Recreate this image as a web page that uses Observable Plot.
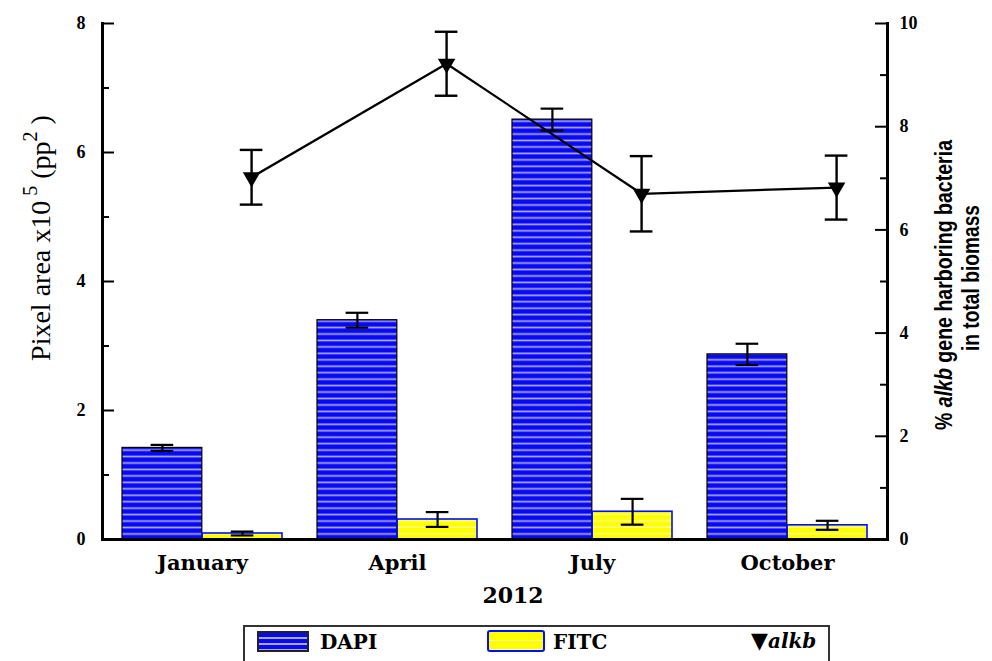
<!DOCTYPE html>
<html><head><meta charset="utf-8">
<script src="https://cdn.jsdelivr.net/npm/d3@7"></script>
<script src="https://cdn.jsdelivr.net/npm/@observablehq/plot@0.6"></script>
<style>
body{margin:0;background:#fff;}
#wrap{position:relative;width:992px;height:661px;overflow:hidden;background:#fff;}
#legend{position:absolute;left:243px;top:625px;width:587px;height:44px;border:2px solid #333;box-sizing:border-box;background:#fff;}
.sw{position:absolute;box-sizing:border-box;}
.lt{position:absolute;font-family:"DejaVu Serif",serif;font-weight:bold;font-size:20px;line-height:24px;color:#000;}
#chart svg g[aria-label="x-axis tick label"] text{font-weight:bold;font-size:21px;font-family:'DejaVu Serif',serif;}
#chart svg .ytl text{font-weight:bold;font-size:18px;font-family:'Liberation Serif',serif;}
</style></head><body>
<div id="wrap"><div id="chart"></div><div id="legend"></div></div>
<script>
// ---- data ----
const months = ["January", "April", "July", "October"];
const dapi = [1.42, 3.40, 6.51, 2.87];
const dapiErr = [0.047, 0.115, 0.17, 0.165];
const fitc = [0.093, 0.31, 0.43, 0.22];
const fitcErr = [0.03, 0.115, 0.2, 0.07];
const alkb = [7.02, 9.22, 6.70, 6.82];
const alkbErr = [0.53, 0.62, 0.73, 0.62];
const leftTicks = [0, 2, 4, 6, 8];
const leftMinor = [1, 3, 5, 7];
const rightTicks = [0, 2, 4, 6, 8, 10];
const rightMinor = [1, 3, 5, 7, 9];
const seriesNames = ["DAPI", "FITC", "alkb"];
const yearLabel = "2012";

// ---- layout ----
const W = 992, H = 620, mL = 102, mR = 105, mT = 23, mB = 81;
const fw = W - mL - mR;
const pIn = 0.18, pOut = 0.097;
const xs = d3.scaleBand().domain(months).range([mL, W - mR]).paddingInner(pIn).paddingOuter(pOut).align(0.5);
const bw = xs.bandwidth();
const q = bw / 4;
const k = 8 / 10; // right axis (0-10) mapped onto left (0-8)
const cap = 11.5;
const alkbDx = q + 9;

const rows = months.map((m, i) => ({
  m, dapi: dapi[i], de: dapiErr[i], fitc: fitc[i], fe: fitcErr[i], alkb: alkb[i], ae: alkbErr[i]
}));

const serifB = "'Liberation Serif', 'Times New Roman', serif";
const wide = "'DejaVu Serif', serif";
const tickText = {fontSize: 18, fontWeight: "bold", fontFamily: serifB, fill: "#000", className: "ytl"};

const plot = Plot.plot({
  width: W, height: H,
  marginLeft: mL, marginRight: mR, marginTop: mT, marginBottom: mB,
  style: {fontFamily: serifB, fontWeight: "bold", fontSize: "18px", color: "#000", background: "#fff"},
  x: {domain: months, paddingInner: pIn, paddingOuter: pOut, align: 0.5, label: null},
  y: {domain: [0, 8], label: null, axis: null},
  marks: [
    Plot.barY(rows, {x: "m", y: "dapi", fill: "url(#dapiPat)", stroke: "#000", strokeWidth: 1.2, insetRight: bw / 2}),
    Plot.barY(rows, {x: "m", y: "fitc", fill: "url(#fitcPat)", stroke: "#0010ff", strokeWidth: 1.6, insetLeft: bw / 2}),
    // DAPI error bars
    Plot.ruleX(rows, {x: "m", y1: d => d.dapi - d.de, y2: d => d.dapi + d.de, dx: -q, stroke: "#000", strokeWidth: 2.2}),
    Plot.tickY(rows, {x: "m", y: d => d.dapi + d.de, insetLeft: q - cap, insetRight: bw - q - cap, stroke: "#000", strokeWidth: 2.2}),
    Plot.tickY(rows, {x: "m", y: d => d.dapi - d.de, insetLeft: q - cap, insetRight: bw - q - cap, stroke: "#000", strokeWidth: 2.2}),
    // FITC error bars
    Plot.ruleX(rows, {x: "m", y1: d => d.fitc - d.fe, y2: d => d.fitc + d.fe, dx: q, stroke: "#000", strokeWidth: 2.2}),
    Plot.tickY(rows, {x: "m", y: d => d.fitc + d.fe, insetLeft: 3 * q - cap, insetRight: q - cap, stroke: "#000", strokeWidth: 2.2}),
    Plot.tickY(rows, {x: "m", y: d => d.fitc - d.fe, insetLeft: 3 * q - cap, insetRight: q - cap, stroke: "#000", strokeWidth: 2.2}),
    // alkb line + error bars
    Plot.line(rows, {x: "m", y: d => d.alkb * k, dx: alkbDx, stroke: "#000", strokeWidth: 2.2}),
    Plot.ruleX(rows, {x: "m", y1: d => (d.alkb - d.ae) * k, y2: d => (d.alkb + d.ae) * k, dx: alkbDx, stroke: "#000", strokeWidth: 2.4}),
    Plot.tickY(rows, {x: "m", y: d => (d.alkb + d.ae) * k, insetLeft: 2 * q + alkbDx - cap, insetRight: 2 * q - alkbDx - cap, stroke: "#000", strokeWidth: 2.4}),
    Plot.tickY(rows, {x: "m", y: d => (d.alkb - d.ae) * k, insetLeft: 2 * q + alkbDx - cap, insetRight: 2 * q - alkbDx - cap, stroke: "#000", strokeWidth: 2.4}),
    Plot.dot(rows, {x: "m", y: d => d.alkb * k, dx: alkbDx, symbol: "triangle", rotate: 180, r: 6.5, fill: "#000", stroke: "none"}),
    // axis ticks (inward)
    Plot.tickY(leftTicks, {y: d => d, insetRight: fw - 12, stroke: "#000", strokeWidth: 2}),
    Plot.tickY(leftMinor, {y: d => d, insetRight: fw - 7, stroke: "#000", strokeWidth: 2}),
    Plot.tickY(rightTicks.map(v => v * k), {y: d => d, insetLeft: fw - 12, stroke: "#000", strokeWidth: 2}),
    Plot.tickY(rightMinor.map(v => v * k), {y: d => d, insetLeft: fw - 7, stroke: "#000", strokeWidth: 2}),
    // y tick labels
    Plot.text(leftTicks, {y: d => d, text: d => String(d), frameAnchor: "left", textAnchor: "end", dx: -17, ...tickText}),
    Plot.text(rightTicks, {y: d => d * k, text: d => String(d), frameAnchor: "right", textAnchor: "start", dx: 12, ...tickText}),
    // x axis labels
    Plot.axisX({anchor: "bottom", tickSize: 0, tickPadding: 16, label: null}),
    Plot.text([yearLabel], {frameAnchor: "bottom", dy: 63, dx: 18, text: d => d, fontSize: 22, fontWeight: "bold", fontFamily: wide, fill: "#000"}),
    // axis lines
    Plot.frame({anchor: "left", stroke: "#000", strokeWidth: 3}),
    Plot.frame({anchor: "right", stroke: "#000", strokeWidth: 3}),
    Plot.frame({anchor: "bottom", stroke: "#000", strokeWidth: 3})
  ]
});

// patterns
const svg = d3.select(plot);
const defs = svg.insert("defs", ":first-child");
const pd = defs.append("pattern").attr("id", "dapiPat").attr("patternUnits", "userSpaceOnUse").attr("width", 10).attr("height", 6.45);
pd.append("rect").attr("width", 10).attr("height", 6.45).attr("fill", "#0a0af0");
pd.append("rect").attr("y", 4.2).attr("width", 10).attr("height", 1.7).attr("fill", "#a9a9ff");
const pf = defs.append("pattern").attr("id", "fitcPat").attr("patternUnits", "userSpaceOnUse").attr("width", 10).attr("height", 6.45);
pf.append("rect").attr("width", 10).attr("height", 6.45).attr("fill", "#ffff00");
pf.append("rect").attr("y", 4.2).attr("width", 10).attr("height", 1.2).attr("fill", "#ffffa0");

// axis titles
const lt = svg.append("text").attr("transform", "translate(44,238) rotate(-90)")
  .attr("text-anchor", "middle").attr("dominant-baseline", "middle")
  .style("font-family", "'Liberation Serif', serif").style("font-weight", "normal").style("font-size", "28px").attr("fill", "#000");
lt.append("tspan").text("Pixel area x10");
lt.append("tspan").attr("dy", -12).style("font-size", "20px").text("\u00a05");
lt.append("tspan").attr("dy", 12).text("\u00a0(pp");
lt.append("tspan").attr("dy", -12).style("font-size", "20px").text("2");
lt.append("tspan").attr("dy", 12).text("\u00a0)");

const sans = "'Liberation Sans', Arial, sans-serif";
const rt1 = svg.append("text").attr("transform", "translate(946,285) rotate(-90)")
  .attr("text-anchor", "middle").attr("dominant-baseline", "middle")
  .attr("textLength", 290).attr("lengthAdjust", "spacingAndGlyphs")
  .style("font-family", sans).style("font-weight", "bold").style("font-size", "24px").attr("fill", "#000");
rt1.append("tspan").text("% ");
rt1.append("tspan").style("font-style", "italic").text("alkb");
rt1.append("tspan").text(" gene harboring bacteria");
svg.append("text").attr("transform", "translate(973,278) rotate(-90)")
  .attr("text-anchor", "middle").attr("dominant-baseline", "middle")
  .attr("textLength", 146).attr("lengthAdjust", "spacingAndGlyphs")
  .style("font-family", sans).style("font-weight", "bold").style("font-size", "24px").attr("fill", "#000")
  .text("in total biomass");

document.getElementById("chart").appendChild(plot);

// legend
const lg = document.getElementById("legend");
const stripesBlue = "repeating-linear-gradient(180deg,#0a0af0 0px,#0a0af0 4px,#a9a9ff 4px,#a9a9ff 6px)";
const stripesYellow = "repeating-linear-gradient(180deg,#ffff00 0px,#ffff00 8px,#ffffa0 8px,#ffffa0 9px)";
lg.innerHTML = `
 <div class="sw" style="left:12px;top:4px;width:52px;height:21px;border:2px solid #222;background:${stripesBlue}"></div>
 <div class="lt" style="left:75px;top:3px;">${seriesNames[0]}</div>
 <div class="sw" style="left:242px;top:3px;width:58px;height:22px;border:2px solid #0010ff;border-radius:3px;background:${stripesYellow}"></div>
 <div class="lt" style="left:308px;top:3px;">${seriesNames[1]}</div>
 <div class="lt" style="left:506px;top:2px;"><span style="font-size:22px;font-family:'DejaVu Sans',sans-serif">\u25BC</span><i>${seriesNames[2]}</i></div>
`;
</script>
</body></html>
